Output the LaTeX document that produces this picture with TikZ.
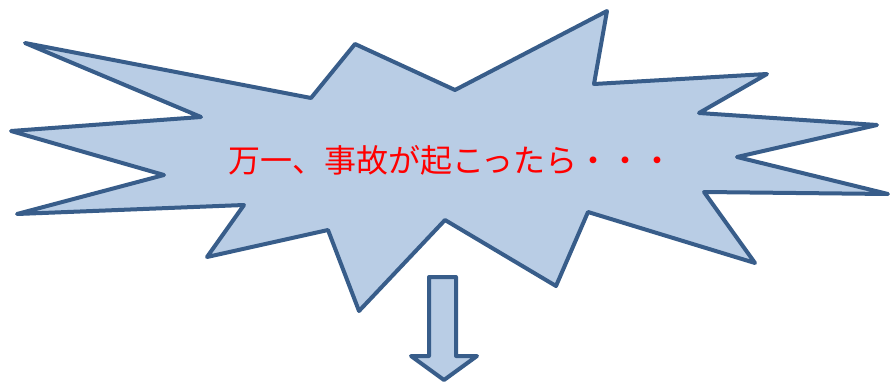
\documentclass[tikz,border=0pt]{standalone}
\usepackage{fontspec}
\newfontfamily\cjk{Noto Sans CJK JP}
\definecolor{edgeblue}{HTML}{385D8A}
\definecolor{fillblue}{HTML}{B9CDE5}
\definecolor{textred}{HTML}{FF0000}
\tikzset{
  burst/.style={draw=edgeblue, fill=fillblue, line width=4pt, line join=round},
  label/.style={text=textred, font=\cjk\fontsize{32}{36}\selectfont, inner sep=0pt}
}
\begin{document}
\begin{tikzpicture}[x=1pt,y=-1pt]
\useasboundingbox (0,0) rectangle (891,385);
\fill[white] (0,0) rectangle (891,385);
\draw[burst] (25,43) -- (311,98) -- (355,44) -- (455,90) -- (607,11) -- (594,84)
  -- (767,74) -- (699,113) -- (877,125) -- (737,157) -- (888,194) -- (704,192)
  -- (755,263) -- (588,212) -- (556,286) -- (445,220) -- (359,311) -- (328,230)
  -- (207,257) -- (244,205) -- (17,214) -- (164,175) -- (11,131) -- (201,117) -- cycle;
\node[label] (msg) at (451,160) {万一、事故が起こったら・・・};
\draw[burst] (429,277) -- (456,277) -- (456,356) -- (477,356) -- (444,380)
  -- (411,356) -- (429,356) -- cycle;
\end{tikzpicture}
\end{document}
